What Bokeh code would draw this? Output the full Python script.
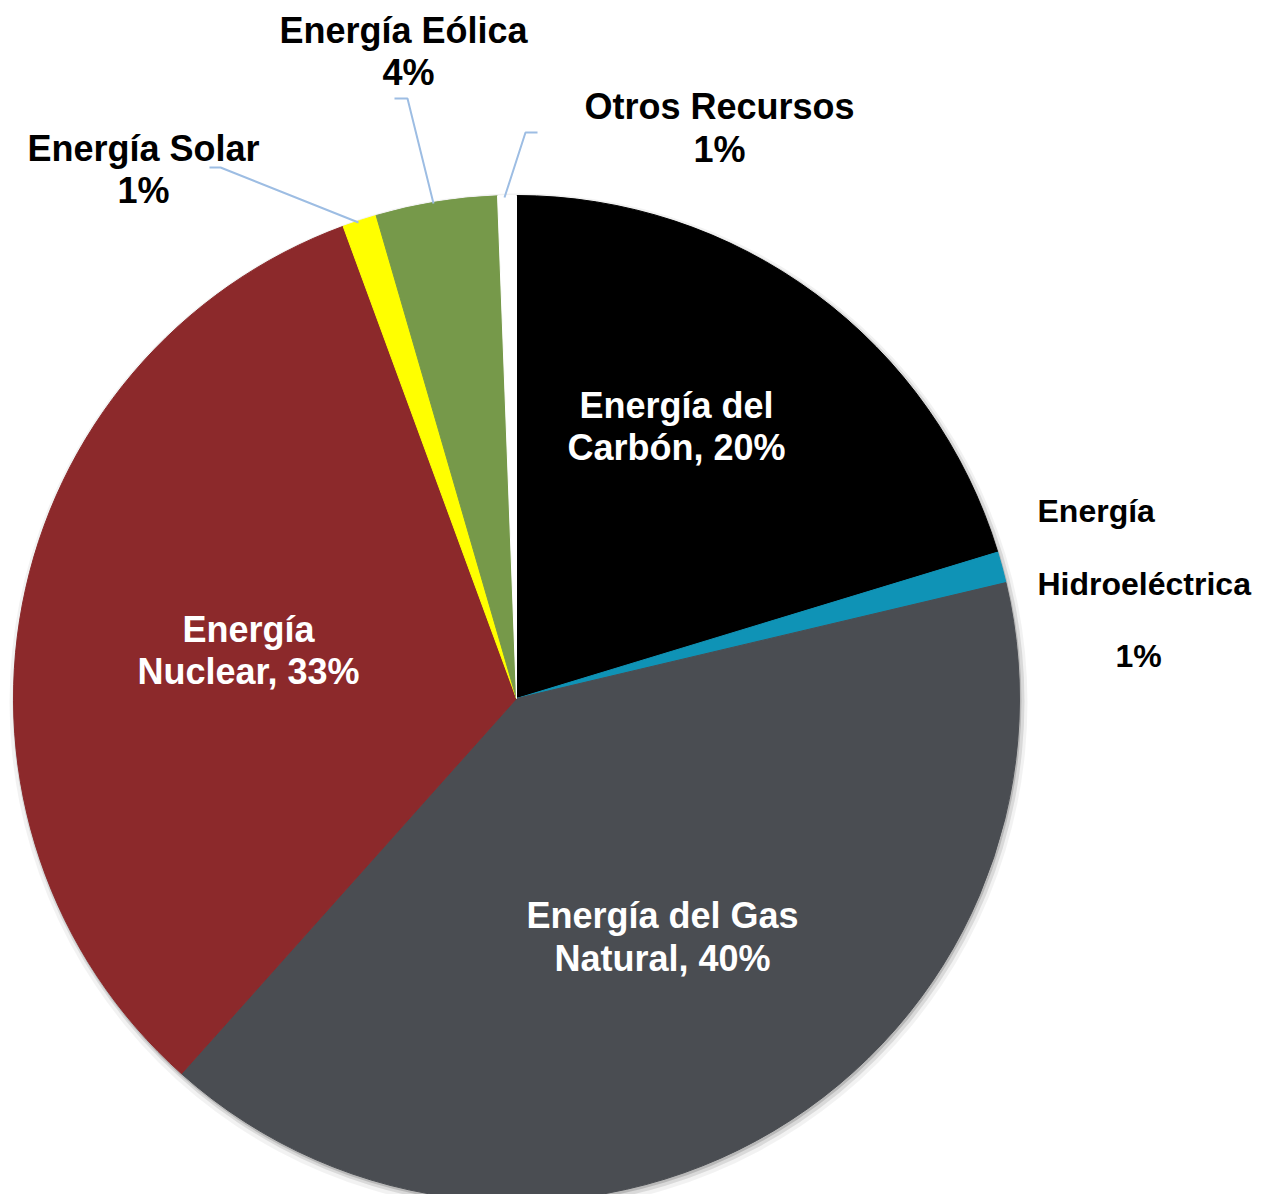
import math
from bokeh.plotting import figure
from bokeh.models import Range1d, ColumnDataSource
from bokeh.core.properties import value
from bokeh.embed import file_html
from bokeh.resources import INLINE

# ---- data ----
categories = ["Energía del Carbón", "Energía Hidroeléctrica", "Energía del Gas Natural",
              "Energía Nuclear", "Energía Solar", "Energía Eólica", "Otros Recursos"]
shares = [20.3, 1.0, 40.3, 32.8, 1.1, 3.9, 0.6]
pct_labels = ["20%", "1%", "40%", "33%", "1%", "4%", "1%"]
colors = ["#000000", "#0f93b6", "#4a4d52", "#8c292b", "#ffff00", "#76994a", "#ffffff"]

# ---- layout (screen pixel coordinates of the picture) ----
W, H = 1278, 1202
PW, PH = 1270, 1194
def Y(sy):
    return H - sy

CX, CY, R = 516, Y(698), 503

p = figure(width=PW, height=PH, x_range=Range1d(0, PW), y_range=Range1d(H - PH, H),
           output_backend="svg", toolbar_location=None, min_border=0)
p.axis.visible = False
p.grid.visible = False
p.outline_line_color = None
p.background_fill_color = "white"

# soft shadow
for dr, dx, dy, a in [(6, 2, -4, 0.05), (3, 2, -3, 0.10), (1, 1, -2, 0.15)]:
    p.circle(x=[CX + dx], y=[CY + dy], radius=R + dr, fill_color="#000000",
             fill_alpha=a, line_color=None)

total = sum(shares)
starts, ends = [], []
c = 0.0
for v in shares:
    starts.append(math.pi / 2 - 2 * math.pi * c / total)
    c += v
    ends.append(math.pi / 2 - 2 * math.pi * c / total)

src = ColumnDataSource(dict(cat=categories, val=shares, start=starts, end=ends, color=colors))
p.wedge(x=CX, y=CY, radius=R, start_angle="start", end_angle="end", direction="clock",
        fill_color="color", line_color="color", line_width=1, source=src)

# leader lines
lead_color = "#9dbde3"
p.line(x=[209, 220, 358], y=[Y(167), Y(167), Y(222)], line_color=lead_color, line_width=2)
p.line(x=[394, 407, 433], y=[Y(98), Y(98), Y(203)], line_color=lead_color, line_width=2)
p.line(x=[537, 525, 504], y=[Y(132), Y(132), Y(197)], line_color=lead_color, line_width=2)

font = value("Liberation Sans")

def label(xs, ys, texts, color, size, align="center"):
    s = ColumnDataSource(dict(x=xs, y=[Y(v) for v in ys], t=texts))
    p.text(x="x", y="y", text="t", source=s, text_font=font, text_font_style="bold",
           text_font_size=size, text_color=color, text_align=align, text_baseline="middle")

# inside labels
label([676, 676], [405, 447], ["Energía del", "Carbón, " + pct_labels[0]], "white", "36px")
label([662, 662], [915, 958], ["Energía del Gas", "Natural, " + pct_labels[2]], "white", "36px")
label([248, 248], [629, 671], ["Energía", "Nuclear, " + pct_labels[3]], "white", "36px")

# outside labels
label([143, 143], [148, 190], ["Energía Solar", pct_labels[4]], "black", "36px")
label([403, 408], [30, 72], ["Energía Eólica", pct_labels[5]], "black", "36px")
label([719, 719], [106, 149], ["Otros Recursos", pct_labels[6]], "black", "36px")
label([1037, 1037], [510, 583], ["Energía", "Hidroeléctrica"], "black", "32px", align="left")
label([1138], [655], [pct_labels[1]], "black", "32px")

open("out.html", "w").write(file_html(p, INLINE))
